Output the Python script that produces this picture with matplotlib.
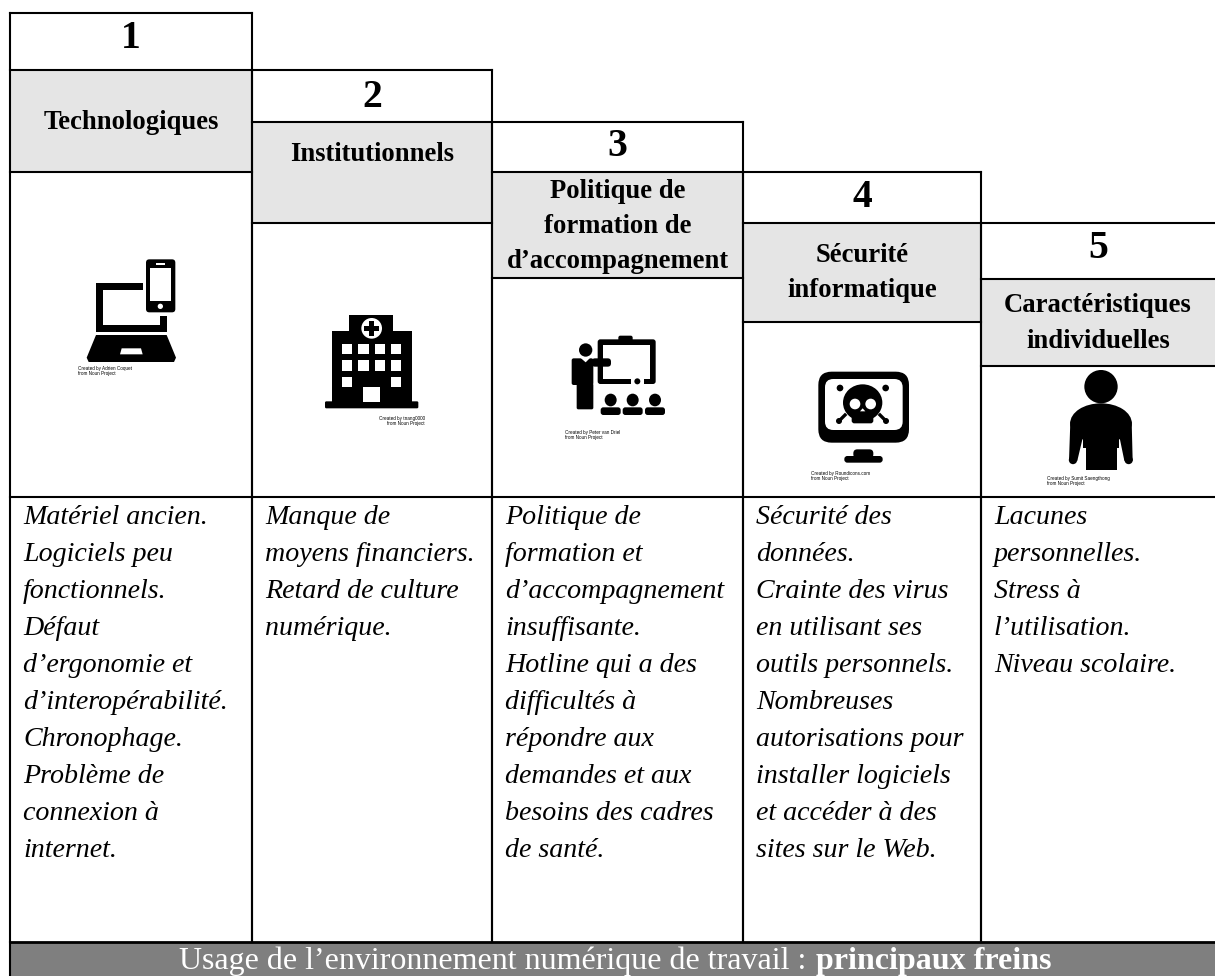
import matplotlib
matplotlib.use('Agg')
import matplotlib.pyplot as plt
from matplotlib.patches import Rectangle, Polygon, Ellipse, FancyBboxPatch
from matplotlib.transforms import Affine2D

plt.rcParams['font.family'] = ['Liberation Serif']

# column edges and step heights, in pixels of the page
col_edges = [10, 252, 492, 743, 981, 1215]
step_top = [13, 70, 122, 172, 223]
num_bottom = [70, 122, 172, 223, 279]
gray_bottom = [172, 223, 278, 322, 366]
body_top = 497
body_bottom = 942
page_bottom = 976

numbers = ['1', '2', '3', '4', '5']
number_base = [48, 107, 156, 207, 258]
titles = [['Technologiques'], ['Institutionnels'],
          ['Politique de', 'formation de', 'd’accompagnement'],
          ['Sécurité', 'informatique'], ['Caractéristiques', 'individuelles']]
title_base = [[129], [161], [198, 233, 268], [262, 297], [312, 348]]
bodies = [
    ['Matériel ancien.', 'Logiciels peu', 'fonctionnels.', 'Défaut', 'd’ergonomie et',
     'd’interopérabilité.', 'Chronophage.', 'Problème de', 'connexion à', 'internet.'],
    ['Manque de', 'moyens financiers.', 'Retard de culture', 'numérique.'],
    ['Politique de', 'formation et', 'd’accompagnement', 'insuffisante.', 'Hotline qui a des',
     'difficultés à', 'répondre aux', 'demandes et aux', 'besoins des cadres', 'de santé.'],
    ['Sécurité des', 'données.', 'Crainte des virus', 'en utilisant ses', 'outils personnels.',
     'Nombreuses', 'autorisations pour', 'installer logiciels', 'et accéder à des', 'sites sur le Web.'],
    ['Lacunes', 'personnelles.', 'Stress à', 'l’utilisation.', 'Niveau scolaire.'],
]
credits = ['Created by Adrien Coquet\nfrom Noun Project',
           'Created by tnang0000\nfrom Noun Project',
           'Created by Peter van Driel\nfrom Noun Project',
           'Created by Roundicons.com\nfrom Noun Project',
           'Created by Sumit Saengthong\nfrom Noun Project']
credit_pos = [(78, 371), (425, 421), (565, 435), (811, 476), (1047, 481)]

fig = plt.figure(figsize=(12.15, 9.76), dpi=100)
ax = fig.add_axes([0, 0, 1, 1])
ax.set_xlim(0, 1215)
ax.set_ylim(976, 0)
ax.axis('off')

LW = 1.5
GRAY = '#e5e5e5'


def hline(x0, x1, y, lw=LW):
    ax.plot([x0, x1], [y, y], color='black', lw=lw, solid_capstyle='projecting', zorder=5)


def vline(x, y0, y1, lw=LW):
    ax.plot([x, x], [y0, y1], color='black', lw=lw, solid_capstyle='projecting', zorder=5)


# frames and gray title bands
for i in range(5):
    x0, x1 = col_edges[i], col_edges[i + 1]
    xc = (x0 + x1) / 2
    ax.add_patch(Rectangle((x0, num_bottom[i]), x1 - x0, gray_bottom[i] - num_bottom[i], fc=GRAY, ec='none'))
    hline(x0, x1, step_top[i])
    hline(x0, x1, num_bottom[i])
    hline(x0, x1, gray_bottom[i])
    vline(x0, step_top[i], body_bottom)
    if i < 4:
        vline(x1, step_top[i], body_bottom)
    ax.text(xc, number_base[i], numbers[i], ha='center', va='baseline', fontsize=28.5, fontweight='bold')
    for t, y in zip(titles[i], title_base[i]):
        ax.text(xc, y, t, ha='center', va='baseline', fontsize=19.2, fontweight='bold')
    for k, t in enumerate(bodies[i]):
        ax.text(x0 + 13, 524 + k * 37.0, t, ha='left', va='baseline', fontsize=20.2, fontstyle='italic')
    cx, cy = credit_pos[i]
    ax.text(cx, cy, credits[i], ha='right' if i == 1 else 'left', va='center', fontsize=3.3,
            family='Liberation Sans', linespacing=1.0)
hline(10, 1215, body_top)

# footer band
ax.add_patch(Rectangle((10, body_bottom), 1205, page_bottom - body_bottom, fc='#7f7f7f', ec='none', zorder=1))
hline(10, 1215, body_bottom, lw=2)
vline(10, body_bottom, page_bottom)
ax.text(179, 969, 'Usage de l’environnement numérique de travail :', color='white', fontsize=23,
        ha='left', va='baseline', zorder=6)
ax.text(816, 969, 'principaux freins', color='white', fontsize=23, fontweight='bold',
        ha='left', va='baseline', zorder=6)


def icon_tf(ox, oy):
    # icons are sketched in the units of the 3x crops, this brings them back to page pixels
    return Affine2D().scale(1 / 3).translate(ox, oy) + ax.transData


def rect(tf, x0, y0, x1, y1, color='black', z=3):
    ax.add_patch(Rectangle((x0, y0), x1 - x0, y1 - y0, fc=color, ec='none', transform=tf, zorder=z))


def rrect(tf, x0, y0, x1, y1, r, color='black', z=3):
    ax.add_patch(FancyBboxPatch((x0 + r, y0 + r), x1 - x0 - 2 * r, y1 - y0 - 2 * r,
                                boxstyle='round,pad=%f,rounding_size=%f' % (r, r),
                                fc=color, ec='none', transform=tf, zorder=z))


def poly(tf, pts, color='black', z=3):
    ax.add_patch(Polygon(pts, closed=True, fc=color, ec='none', transform=tf, zorder=z))


def ell(tf, x, y, w, h, color='black', z=3):
    ax.add_patch(Ellipse((x, y), w, h, fc=color, ec='none', transform=tf, zorder=z))


# laptop and phone
t = icon_tf(0, 170)
rect(t, 288, 340, 428, 360)
rect(t, 288, 340, 308, 485)
rect(t, 288, 465, 500, 485)
rect(t, 480, 437, 500, 485)
poly(t, [(288, 495), (500, 495), (528, 563), (522, 576), (266, 576), (260, 563)])
poly(t, [(365, 535), (423, 535), (428, 553), (360, 553)], 'white', 4)
rrect(t, 438, 268, 526, 427, 10)
rect(t, 451, 293, 513, 393, 'white', 4)
ell(t, 481, 409, 16, 16, 'white', 4)
rect(t, 468, 279, 494, 284, 'white', 4)

# hospital
rect(t, 1048, 434, 1180, 490)
rect(t, 995, 484, 1235, 700)
rrect(t, 975, 694, 1255, 715, 4)
ell(t, 1115, 475, 62, 62, 'white', 4)
rect(t, 1107, 452, 1123, 498, 'black', 5)
rect(t, 1092, 467, 1138, 483, 'black', 5)
for wy in [522, 571, 620]:
    for wx in [1025, 1075, 1124, 1173]:
        if wy == 620 and wx in [1075, 1124]:
            continue
        rect(t, wx, wy, wx + 31, wy + 31, 'white', 4)
rect(t, 1090, 650, 1140, 695, 'white', 4)

t = icon_tf(540, 320)

# teacher and class
rrect(t, 173, 58, 347, 192, 8)
rect(t, 190, 75, 330, 176, 'white', 4)
rrect(t, 235, 47, 278, 65, 6)
rect(t, 272, 172, 312, 195, 'white', 4)
ell(t, 292, 184, 18, 18, 'black', 5)
ell(t, 137, 90, 40, 40)
rrect(t, 95, 115, 160, 195, 6, 'black', 5)
rrect(t, 110, 190, 160, 268, 5, 'black', 5)
rrect(t, 155, 115, 213, 140, 10, 'black', 5)
poly(t, [(122, 114), (150, 114), (137, 127)], 'white', 6)
for cx in [212, 278, 345]:
    ell(t, cx, 240, 36, 38)
    rrect(t, cx - 30, 262, cx + 30, 285, 8)

# monitor with skull
rrect(t, 835, 155, 1107, 368, 40)
rrect(t, 855, 177, 1088, 330, 25, 'white', 4)
ell(t, 968, 248, 118, 110, 'black', 5)
rrect(t, 935, 275, 1000, 310, 8, 'black', 5)
ell(t, 945, 252, 32, 32, 'white', 6)
ell(t, 992, 252, 32, 32, 'white', 6)
poly(t, [(968, 265), (976, 274), (960, 274)], 'white', 6)
ell(t, 900, 204, 20, 20, 'black', 5)
ell(t, 1037, 204, 20, 20, 'black', 5)
for (xa, xb) in [(915, 897), (1020, 1038)]:
    ax.plot([xa, xb], [285, 303], color='black', lw=2.4, transform=t, zorder=5)
    ell(t, xb, 303, 18, 18, 'black', 5)
rrect(t, 940, 388, 1000, 415, 12)
rrect(t, 913, 408, 1028, 428, 9)

# person
t = icon_tf(1000, 215)
ell(t, 303, 515, 100, 100)
ell(t, 303, 625, 185, 120)
poly(t, [(211, 620), (207, 737), (232, 737), (255, 640)])
poly(t, [(395, 620), (398, 737), (373, 737), (353, 640)])
ell(t, 219, 735, 25, 25)
ell(t, 386, 735, 25, 25)
rect(t, 250, 620, 358, 700)
rect(t, 257, 695, 352, 765)

fig.savefig('out.png', dpi=100)
